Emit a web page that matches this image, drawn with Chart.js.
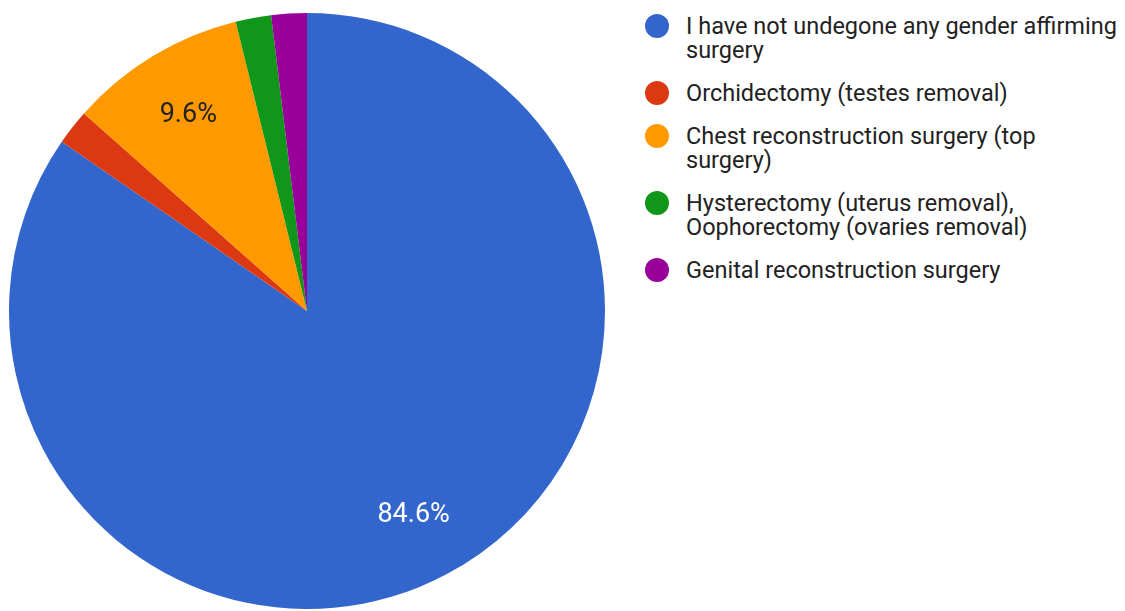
<!DOCTYPE html>
<html>
<head>
<meta charset="utf-8">
<script src="https://cdn.jsdelivr.net/npm/chart.js@4.4.1/dist/chart.umd.min.js"></script>
<style>
  html, body { margin: 0; padding: 0; background: #fff; }
  body { width: 1125px; height: 611px; position: relative; overflow: hidden; font-family: Roboto, "Noto Sans", sans-serif; }
  #wrap { position: absolute; left: 0; top: 0; width: 614px; height: 611px; }
  #legend { position: absolute; left: 645px; top: 14px; width: 480px; list-style: none; margin: 0; padding: 0; }
  #legend li { display: flex; align-items: flex-start; margin-bottom: 19px; color: #222; font-size: 23.5px; line-height: 24px; }
  #legend .dot { flex: 0 0 24px; width: 24px; height: 24px; border-radius: 50%; margin-right: 17px; }
  #legend .txt { width: 439px; }
</style>
</head>
<body>
<div id="wrap"><canvas id="pie"></canvas></div>
<ul id="legend"></ul>
<script>
// ---------- Data -------------------------------------------------------
const labels = [
  "I have not undegone any gender affirming surgery",
  "Orchidectomy (testes removal)",
  "Chest reconstruction surgery (top surgery)",
  "Hysterectomy (uterus removal), Oophorectomy (ovaries removal)",
  "Genital reconstruction surgery",
];
const counts = [44, 1, 5, 1, 1];
const colors = ["#3366cc", "#dc3912", "#ff9900", "#109618", "#990099"];
const labelColors = ["#ffffff", "#222222", "#222222", "#ffffff", "#ffffff"];

const total = counts.reduce((a, b) => a + b, 0);

// ---------- Slice labels (Google-style, inside the pie) ---------------
const sliceLabels = {
  id: "sliceLabels",
  afterDatasetsDraw(chart) {
    const { ctx } = chart;
    const meta = chart.getDatasetMeta(0);
    ctx.save();
    ctx.font = "27px Roboto, sans-serif";
    ctx.textAlign = "center";
    ctx.textBaseline = "middle";
    meta.data.forEach((arc, i) => {
      const pct = counts[i] / total * 100;
      if (pct < 5) return;
      const mid = (arc.startAngle + arc.endAngle) / 2;
      const r = arc.outerRadius * 0.77;
      ctx.fillStyle = labelColors[i];
      ctx.fillText(pct.toFixed(1) + "%", arc.x + Math.cos(mid) * r, arc.y + Math.sin(mid) * r + 1);
    });
    ctx.restore();
  },
};

new Chart(document.getElementById("pie"), {
  type: "pie",
  data: {
    labels,
    datasets: [{
      data: counts,
      backgroundColor: colors,
      borderWidth: 0,
    }],
  },
  options: {
    responsive: true,
    maintainAspectRatio: false,
    animation: false,
    layout: { padding: { left: 9, right: 9, top: 13, bottom: 2 } },
    plugins: {
      legend: { display: false },
      tooltip: { enabled: true },
    },
  },
  plugins: [sliceLabels],
});

// ---------- HTML legend ------------------------------------------------
const legendEl = document.getElementById("legend");
labels.forEach((lbl, i) => {
  const li = document.createElement("li");
  const dot = document.createElement("span");
  dot.className = "dot";
  dot.style.background = colors[i];
  const txt = document.createElement("span");
  txt.className = "txt";
  txt.textContent = lbl;
  li.appendChild(dot);
  li.appendChild(txt);
  legendEl.appendChild(li);
});
</script>
</body>
</html>
